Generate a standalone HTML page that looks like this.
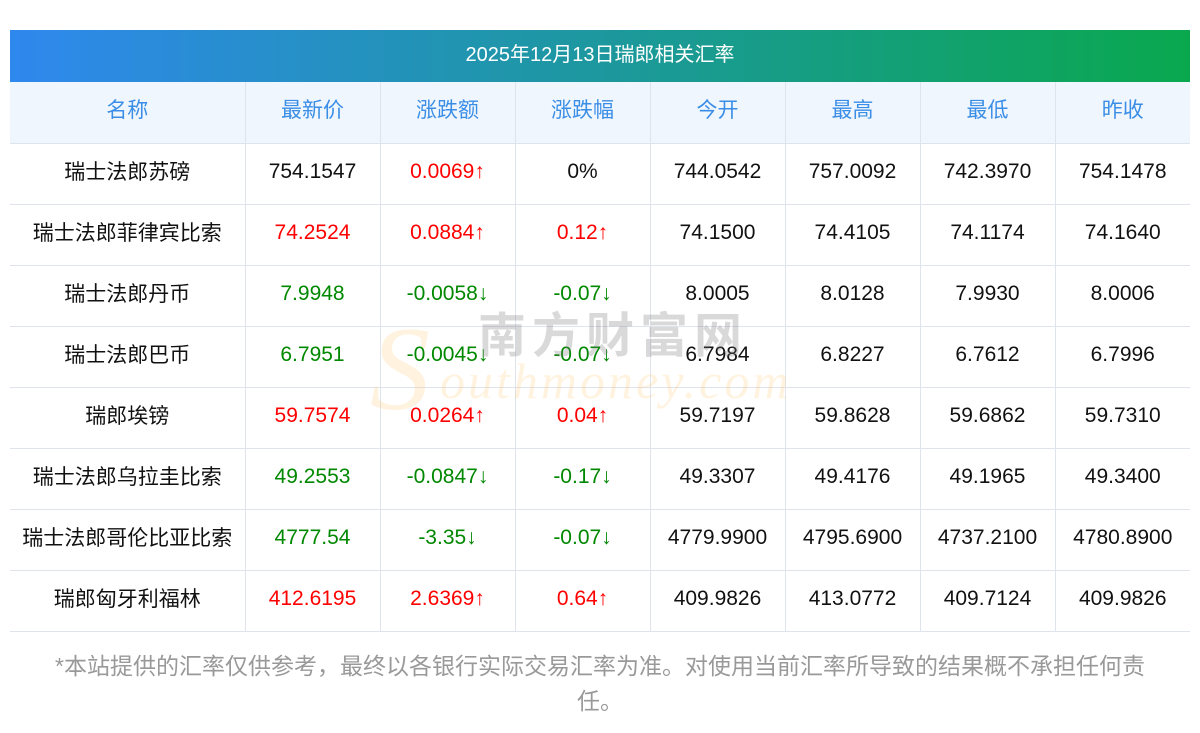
<!DOCTYPE html>
<html><head><meta charset="utf-8"><style>
body{margin:0;width:1200px;height:733px;background:#fff;font-family:"Liberation Sans","Noto Sans CJK SC",sans-serif;position:relative;overflow:hidden}
.title{position:absolute;left:10px;top:30px;width:1180px;height:52px;background:linear-gradient(90deg,#2f88ee,#0aa84e);color:#fff;font-size:20px;line-height:50px;text-align:center}
table{position:absolute;left:10px;top:82px;border-collapse:collapse;width:1180px;table-layout:fixed}
tr{height:61px}
td{height:56px;border:1px solid #dfe3ec;text-align:center;font-size:21px;line-height:24px;padding:0 0 4px 0;color:#111;white-space:nowrap;vertical-align:middle}
td span{position:relative;top:1px}
tr:first-child td span{top:1px}
tr td:first-child{border-left:none}tr td:last-child{border-right:none}
tr:first-child td{border-top:none;background:#f0f6fe;color:#3a8ee6}
.r{color:#f00}.g{color:#080}
.foot{position:absolute;left:0;width:1200px;top:649px;text-align:center;color:#999;font-size:23px;line-height:35px}
.wm1{position:absolute;left:478px;top:296px;font-size:48px;color:rgba(120,120,120,.28);letter-spacing:6px;font-weight:bold}
.wm2{position:absolute;left:440px;top:352px;font-size:50px;font-style:italic;color:rgba(255,190,80,.18);font-family:"Liberation Serif",serif;letter-spacing:3px}
.wm3{position:absolute;left:370px;top:300px;font-size:120px;font-style:italic;color:rgba(255,190,80,.18);font-family:"Liberation Serif",serif}
</style></head><body>
<div class="title">2025年12月13日瑞郎相关汇率</div>
<table>
<colgroup><col style="width:235px"><col style="width:135px"><col style="width:135px"><col style="width:135px"><col style="width:135px"><col style="width:135px"><col style="width:135px"><col style="width:135px"></colgroup>
<tr><td><span>名称</span></td><td><span>最新价</span></td><td><span>涨跌额</span></td><td><span>涨跌幅</span></td><td><span>今开</span></td><td><span>最高</span></td><td><span>最低</span></td><td><span>昨收</span></td></tr>
<tr><td><span>瑞士法郎苏磅</span></td><td>754.1547</td><td class="r">0.0069↑</td><td>0%</td><td>744.0542</td><td>757.0092</td><td>742.3970</td><td>754.1478</td></tr>
<tr><td><span>瑞士法郎菲律宾比索</span></td><td class="r">74.2524</td><td class="r">0.0884↑</td><td class="r">0.12↑</td><td>74.1500</td><td>74.4105</td><td>74.1174</td><td>74.1640</td></tr>
<tr><td><span>瑞士法郎丹币</span></td><td class="g">7.9948</td><td class="g">-0.0058↓</td><td class="g">-0.07↓</td><td>8.0005</td><td>8.0128</td><td>7.9930</td><td>8.0006</td></tr>
<tr><td><span>瑞士法郎巴币</span></td><td class="g">6.7951</td><td class="g">-0.0045↓</td><td class="g">-0.07↓</td><td>6.7984</td><td>6.8227</td><td>6.7612</td><td>6.7996</td></tr>
<tr><td><span>瑞郎埃镑</span></td><td class="r">59.7574</td><td class="r">0.0264↑</td><td class="r">0.04↑</td><td>59.7197</td><td>59.8628</td><td>59.6862</td><td>59.7310</td></tr>
<tr><td><span>瑞士法郎乌拉圭比索</span></td><td class="g">49.2553</td><td class="g">-0.0847↓</td><td class="g">-0.17↓</td><td>49.3307</td><td>49.4176</td><td>49.1965</td><td>49.3400</td></tr>
<tr><td><span>瑞士法郎哥伦比亚比索</span></td><td class="g">4777.54</td><td class="g">-3.35↓</td><td class="g">-0.07↓</td><td>4779.9900</td><td>4795.6900</td><td>4737.2100</td><td>4780.8900</td></tr>
<tr><td><span>瑞郎匈牙利福林</span></td><td class="r">412.6195</td><td class="r">2.6369↑</td><td class="r">0.64↑</td><td>409.9826</td><td>413.0772</td><td>409.7124</td><td>409.9826</td></tr>
</table>
<div class="wm3">S</div>
<div class="wm1">南方财富网</div>
<div class="wm2">outhmoney.com</div>
<div class="foot">*本站提供的汇率仅供参考，最终以各银行实际交易汇率为准。对使用当前汇率所导致的结果概不承担任何责<br>任。</div>
</body></html>
